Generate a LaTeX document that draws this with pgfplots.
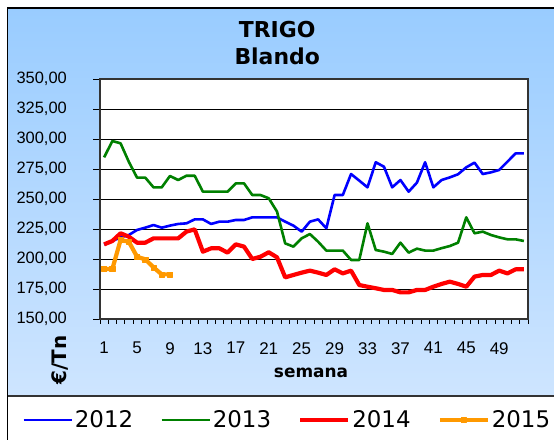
\documentclass[border=0pt]{standalone}
\usepackage{pgfplots}
\pgfplotsset{compat=1.18}
\usepackage{fontspec}
\setmainfont{DejaVu Sans}
\newfontfamily\arialf{Liberation Sans}
\definecolor{bgtop}{RGB}{153,204,255}
\definecolor{bgbot}{RGB}{206,229,255}
\definecolor{c12}{RGB}{0,0,255}
\definecolor{c13}{RGB}{0,128,0}
\definecolor{c14}{RGB}{255,0,0}
\definecolor{c15}{RGB}{255,153,0}

\pgfplotstableread{
w v
1 212
2 215
3 218
4 220
5 224.2
6 226.1
7 228.3
8 226.1
9 227.8
10 229.2
11 229.7
12 233
13 233
14 229.2
15 231.1
16 231.1
17 232.5
18 232.5
19 234.7
20 234.7
21 234.7
22 234.7
23 231.1
24 227.8
25 222.8
26 231.1
27 233
28 225.6
29 253.3
30 253.3
31 270.8
32 265.3
33 259.7
34 280.6
35 276.9
36 259.7
37 265.8
38 256.1
39 263.6
40 280.6
41 259.7
42 265.8
43 268
44 270.6
45 276.4
46 280.3
47 270.8
48 272.2
49 274.2
50 281.1
51 288
52 288
}\dtwelve

\pgfplotstableread{
w v
1 284.7
2 298.3
3 296.4
4 281
5 267.8
6 267.8
7 259.7
8 259.7
9 269.2
10 265.8
11 269.4
12 269.4
13 256.1
14 256.1
15 256.1
16 256.1
17 263
18 263
19 253.3
20 253.3
21 250.6
22 239.6
23 213
24 210.3
25 217.2
26 220.8
27 214.4
28 207
29 207
30 207
31 199.2
32 199.2
33 229.7
34 207.5
35 206.1
36 204.2
37 213.6
38 205.3
39 208.6
40 207
41 207
42 209
43 210.8
44 213.6
45 234.7
46 221.4
47 222.8
48 220
49 218
50 216.4
51 216.4
52 215
}\dthirteen

\pgfplotstableread{
w v
1 212.2
2 215
3 221.4
4 218.6
5 213.6
6 213.6
7 217.2
8 217.2
9 217.2
10 217.2
11 222.8
12 224.7
13 206.1
14 208.9
15 208.9
16 205.3
17 212.2
18 210.3
19 200
20 201.9
21 205.6
22 201.4
23 184.7
24 186.7
25 188.6
26 190.3
27 188.6
28 186.7
29 191.4
30 188
31 190.3
32 178.3
33 176.9
34 175.6
35 174.2
36 174.2
37 172.2
38 172.2
39 174.2
40 174.2
41 176.9
42 179.2
43 181.1
44 179.2
45 176.9
46 185.3
47 186.7
48 186.7
49 190.3
50 188
51 191.4
52 191.4
}\dfourteen

\pgfplotstableread{
w v
1 191.7
2 191.7
3 215.8
4 214.4
5 201.9
6 199.7
7 193
8 187.2
9 187.2
}\dfifteen

\begin{document}
\begin{tikzpicture}[x=1bp,y=1bp]
\fill[white] (0,0) rectangle (554,440);
\shade[top color=bgtop, bottom color=bgbot] (7.5,44) rectangle (554,432);
\draw[black, line width=1.5bp] (7.5,0) -- (7.5,432) -- (554,432);
\draw[black!80, line width=1.2bp] (7.5,44) -- (554,44);
\begin{axis}[
  at={(100bp,121bp)}, anchor=south west,
  scale only axis, width=428bp, height=240bp,
  xmin=0.5, xmax=52.5, ymin=150, ymax=350,
  ytick={150,175,...,350},
  yticklabel={\arialf\fontsize{16.5}{20}\selectfont\pgfmathprintnumber[fixed,fixed zerofill,precision=2,use comma,assume math mode=true]{\tick}},
  xtick={1,5,...,49},
  xticklabel={\arialf\fontsize{17}{20}\selectfont\pgfmathprintnumber[assume math mode=true]{\tick}},
  minor xtick={0.5,1.5,...,52.5},
  every major x tick/.style={draw=none},
  ymajorgrids, grid style={black, line width=0.8bp},
  axis background/.style={fill=white},
  axis line style={draw=black!80, line width=1.5bp},
  tick align=outside, tick pos=left,
  major tick length=7bp, minor tick length=5bp,
  tick style={black, line width=0.8bp},
  yticklabel style={inner sep=0pt, anchor=east, xshift=-26bp},
  xticklabel style={inner sep=0pt, anchor=north, yshift=-16bp},
  xlabel={\bfseries semana},
  xlabel style={at={(axis description cs:0.493,-0.225)}, anchor=center, font=\fontsize{17}{20}\selectfont},
  ylabel={\bfseries €/Tn},
  ylabel style={at={(axis description cs:-0.0935,-0.171)}, anchor=center, font=\fontsize{20}{24}\selectfont},
  title={TRIGO\\Blando},
  title style={at={(axis description cs:0.414,1.125)}, anchor=center, align=center, font=\bfseries\fontsize{22}{27}\selectfont},
  legend columns=4,
  legend image code/.code={\draw[#1,mark repeat=2,mark phase=2] plot coordinates {(0bp,0bp) (24bp,0bp) (48bp,0bp)};},
  legend style={at={(axis description cs:-0.182,-0.421)}, anchor=west, draw=none, fill=none,
    font=\fontsize{23}{26}\selectfont, inner sep=0pt, nodes={inner sep=2bp},
    /tikz/every even column/.append style={column sep=25bp}},
]
\addplot[c12, line width=2.6bp, line join=round] table[x=w,y=v] {\dtwelve};
\addlegendentry{2012}
\addplot[c13, line width=2.6bp, line join=round] table[x=w,y=v] {\dthirteen};
\addlegendentry{2013}
\addplot[c14, line width=4.2bp, line join=round] table[x=w,y=v] {\dfourteen};
\addlegendentry{2014}
\addplot[c15, line width=4.2bp, line join=round, mark=square*, mark size=2.6bp, mark options={solid, c15, line width=0.5bp}] table[x=w,y=v] {\dfifteen};
\addlegendentry{2015}
\end{axis}
\pgfresetboundingbox
\path[use as bounding box] (0,0) rectangle (554,440);
\end{tikzpicture}
\end{document}
